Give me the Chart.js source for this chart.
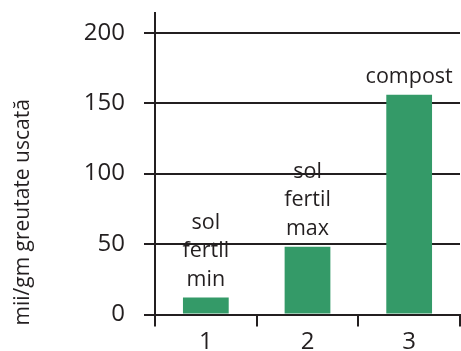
<!DOCTYPE html>
<html><head><meta charset="utf-8">
<script src="https://cdn.jsdelivr.net/npm/chart.js@4.4.0/dist/chart.umd.min.js"></script>
<style>html,body{margin:0;padding:0;background:#fff}#wrap{width:461px;height:351px}</style>
</head><body><div id="wrap"><canvas id="c" width="461" height="351"></canvas></div>
<script>
const categories = ['1', '2', '3'];
const values = [12, 48, 156];
const barLabels = [['sol', 'fertil', 'min'], ['sol', 'fertil', 'max'], ['compost']];
const yTicks = [0, 50, 100, 150, 200];
const yTitle = 'mii/gm greutate uscată';

const INK = '#231f20';
const GREEN = '#349a68';
const FONT = '"Open Sans", "DejaVu Sans", sans-serif';

const labelPlugin = {
  id: 'barLabels',
  afterDatasetsDraw(chart) {
    const ctx = chart.ctx;
    const meta = chart.getDatasetMeta(0);
    ctx.save();
    ctx.font = '21.5px ' + FONT;
    ctx.fillStyle = INK;
    ctx.textAlign = 'center';
    ctx.textBaseline = 'alphabetic';
    meta.data.forEach((el, i) => {
      const lines = barLabels[i];
      const n = lines.length;
      lines.forEach((t, j) => {
        const y = el.y - 12 - (n - 1 - j) * 28.5;
        ctx.fillText(t, el.x, y);
      });
    });
    ctx.restore();
  }
};

const titlePlugin = {
  id: 'yTitle',
  afterDraw(chart) {
    const ctx = chart.ctx;
    ctx.save();
    ctx.font = '21px ' + FONT;
    ctx.fillStyle = INK;
    ctx.translate(23, chart.chartArea.bottom + 11);
    ctx.rotate(-Math.PI / 2);
    ctx.textAlign = 'left';
    ctx.textBaseline = 'middle';
    ctx.fillText(yTitle, 0, 0);
    ctx.restore();
  }
};

new Chart(document.getElementById('c'), {
  type: 'bar',
  data: {
    labels: categories,
    datasets: [{
      data: values,
      backgroundColor: GREEN,
      borderWidth: 0,
      categoryPercentage: 1,
      barPercentage: 0.45
    }]
  },
  options: {
    responsive: false,
    animation: false,
    devicePixelRatio: 1,
    layout: { padding: { top: 13, right: 1, left: 0, bottom: 0 } },
    plugins: { legend: { display: false }, tooltip: { enabled: false } },
    scales: {
      x: {
        type: 'category',
        offset: true,
        grid: { offset: true, drawOnChartArea: false, drawTicks: true, tickLength: 12, color: INK, lineWidth: 2 },
        border: { display: true, color: INK, width: 2 },
        ticks: { color: INK, font: { family: FONT, size: 24 }, padding: 1.5, maxRotation: 0 },
        afterFit(s) { s.height = 36.5; s.paddingLeft = 0; s.paddingRight = 0; }
      },
      y: {
        min: 0,
        max: 214,
        afterBuildTicks(s) { s.ticks = yTicks.map(v => ({ value: v })); },
        grid: { color: INK, lineWidth: 2, drawTicks: true, tickLength: 11 },
        border: { display: true, color: INK, width: 2 },
        ticks: { color: INK, font: { family: FONT, size: 24 }, padding: 19 },
        afterFit(s) { s.width = 155; s.paddingTop = 0; s.paddingBottom = 0; }
      }
    }
  },
  plugins: [labelPlugin, titlePlugin]
});
</script>
</body></html>
